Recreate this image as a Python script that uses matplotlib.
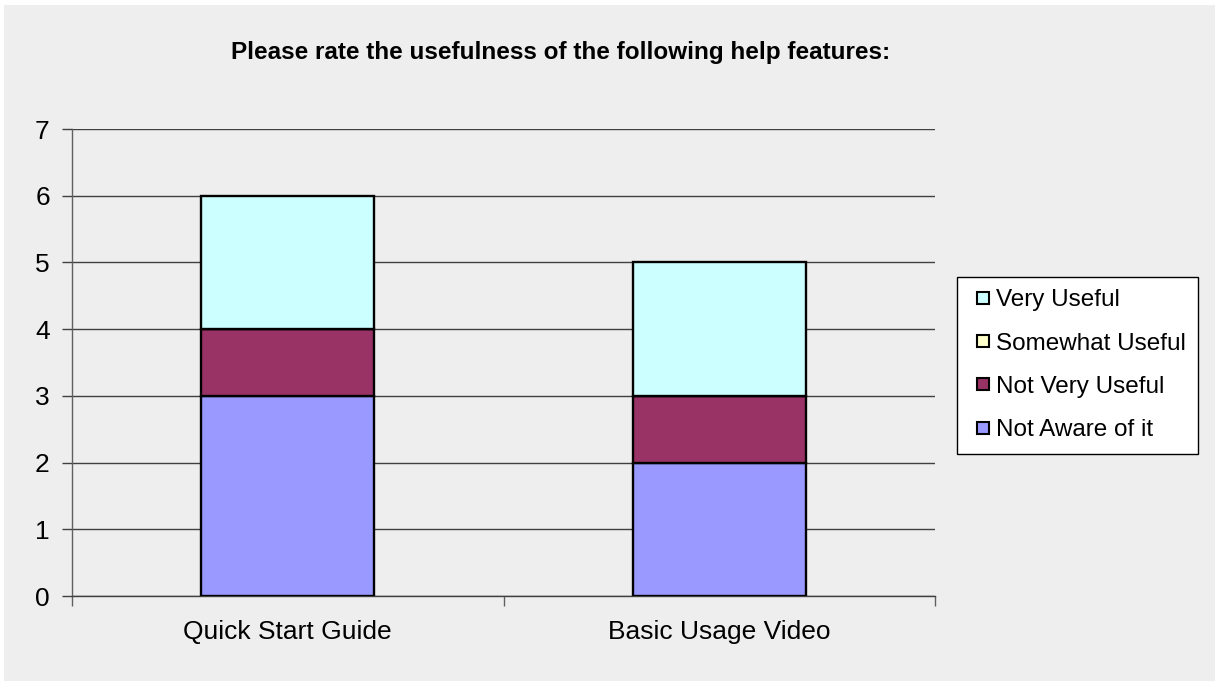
import matplotlib.pyplot as plt
import matplotlib.patches as mpatches
from matplotlib.lines import Line2D
import numpy as np

# Data
categories = ["Quick Start Guide", "Basic Usage Video"]
series_names = ["Not Aware of it", "Not Very Useful", "Somewhat Useful", "Very Useful"]
not_aware = [3, 2]
not_very = [1, 1]
somewhat = [0, 0]
very = [2, 2]
series_values = [not_aware, not_very, somewhat, very]
colors = ["#9999FF", "#993366", "#FFFFCC", "#CCFFFF"]
y_ticks = [0, 1, 2, 3, 4, 5, 6, 7]

W, H = 1215, 681
fig = plt.figure(figsize=(W / 100, H / 100), dpi=100, facecolor="white")

# Grey chart area with thin white strip on top and left
fig.patches.append(mpatches.Rectangle((4 / W, 0), 1 - 4 / W, 1 - 5 / H,
                                      transform=fig.transFigure,
                                      facecolor="#EEEEEE", edgecolor="none",
                                      zorder=-10))

ax = fig.add_axes([72 / W, 1 - 596 / H, (935 - 72) / W, (596 - 129) / H])
ax.set_facecolor("#EEEEEE")

x = np.arange(len(categories))
bottom = np.zeros(len(categories))
for name, vals, col in zip(series_names, series_values, colors):
    ax.bar(x, vals, width=0.4, bottom=bottom, color=col,
           edgecolor="black", linewidth=1.7, zorder=3, label=name)
    bottom += np.array(vals)

ax.set_xlim(-0.5, len(categories) - 0.5)
ax.set_ylim(0, 7)
ax.set_yticks(y_ticks)
ax.set_yticklabels([str(t) for t in y_ticks])
ax.yaxis.grid(True, color="#404040", linewidth=1.0, zorder=1)
ax.set_axisbelow(True)

ax.set_xticks(x)
ax.set_xticklabels(categories)
ax.set_xticks([-0.5, 0.5, 1.5], minor=True)
ax.tick_params(axis="x", which="major", length=0, pad=17,
               labelsize=19)
ax.tick_params(axis="x", which="minor", length=7, direction="out",
               color="#606060", width=1.0)
ax.tick_params(axis="y", length=7, direction="out", color="#404040",
               width=1.0, labelsize=19, pad=9)

for s in ["top", "right"]:
    ax.spines[s].set_visible(False)
ax.spines["left"].set_color("#606060")
ax.spines["bottom"].set_color("#404040")
for s in ["left", "bottom"]:
    ax.spines[s].set_linewidth(1.0)

for lbl in ax.get_xticklabels() + ax.get_yticklabels():
    lbl.set_fontfamily(["Liberation Sans", "DejaVu Sans"])

fig.suptitle("Please rate the usefulness of the following help features:",
             x=561 / W, y=1 - 52 / H, va="center", fontsize=17.5,
             fontweight="bold",
             fontfamily=["Liberation Sans Narrow", "Liberation Sans", "DejaVu Sans"])

# legend with small square swatches, top series first
handles = [Line2D([], [], linestyle="none", marker="s", markersize=9,
                  markerfacecolor=c, markeredgecolor="black",
                  markeredgewidth=1.5) for c in colors]
leg = fig.legend(handles[::-1], series_names[::-1],
                 loc="upper left", bbox_to_anchor=(957 / W, 1 - 277 / H),
                 frameon=True, fancybox=False, edgecolor="black",
                 facecolor="white", framealpha=1,
                 prop={"family": ["Liberation Sans", "DejaVu Sans"], "size": 17.5},
                 handlelength=1.1, handletextpad=0.0,
                 labelspacing=0.88, borderpad=0.5, borderaxespad=0)
leg.get_frame().set_linewidth(1.0)

fig.savefig("out.png", dpi=100, facecolor="white")
